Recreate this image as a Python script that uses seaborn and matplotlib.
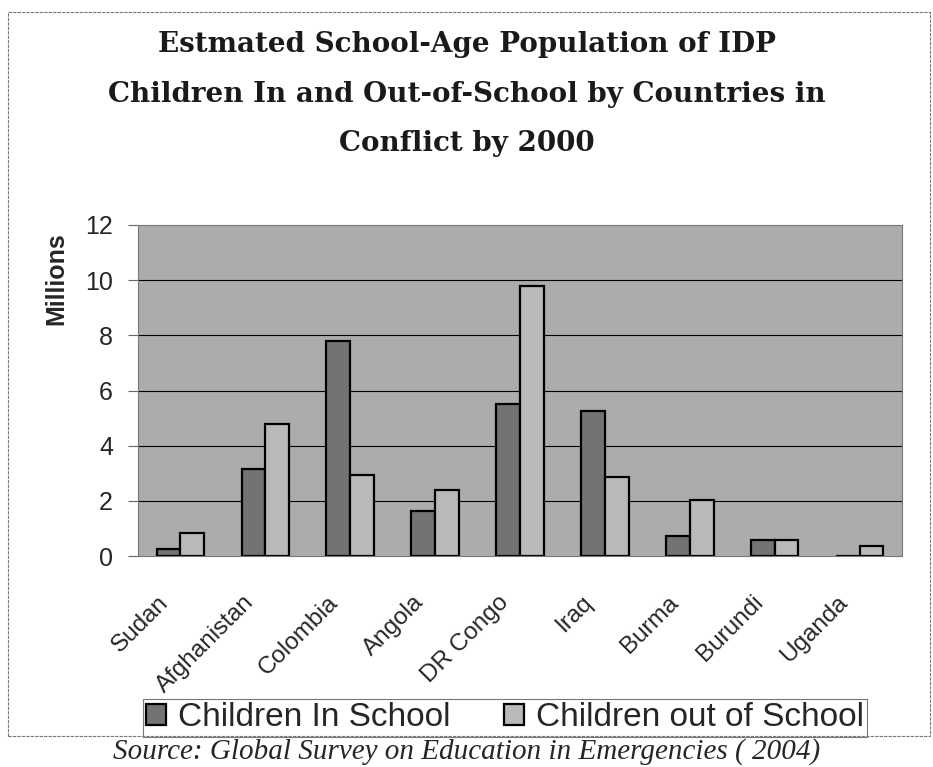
import pandas as pd
import matplotlib
matplotlib.use('Agg')
import matplotlib.pyplot as plt
import matplotlib.transforms as mtransforms
import seaborn as sns
from matplotlib.patches import Rectangle

# data (millions)
countries = ['Sudan', 'Afghanistan', 'Colombia', 'Angola', 'DR Congo',
             'Iraq', 'Burma', 'Burundi', 'Uganda']
in_school = [0.24, 3.15, 7.8, 1.62, 5.5, 5.27, 0.71, 0.57, 0.0]
out_school = [0.85, 4.8, 2.92, 2.38, 9.78, 2.86, 2.04, 0.57, 0.35]
series_names = ['Children In School', 'Children out of School']
y_ticks = [0, 2, 4, 6, 8, 10, 12]

df = pd.DataFrame({'country': countries * 2,
                   'value': in_school + out_school,
                   'series': [series_names[0]] * len(countries) + [series_names[1]] * len(countries)})

sns.set_theme(style='white')
plt.rcParams['font.family'] = ['Liberation Sans', 'DejaVu Sans']

fig = plt.figure(figsize=(9.33, 7.67), dpi=100)
ax = fig.add_axes([138 / 933, 1 - 556 / 767, (902 - 138) / 933, (556 - 225) / 767])

sns.barplot(data=df, x='country', y='value', hue='series', ax=ax,
            palette=['#737373', '#b9b9b9'], width=0.56, gap=0,
            edgecolor='black', linewidth=1.6, saturation=1, legend=True)

ax.set_facecolor('#acacac')
ax.set_ylim(0, 12)
ax.set_xlim(-0.5, len(countries) - 0.5)
ax.set_yticks(y_ticks)
ax.set_yticklabels([str(t) for t in y_ticks], fontsize=18)
for t in y_ticks[1:-1]:
    ax.axhline(t, color='black', lw=0.8, zorder=0.5)

# ticks between categories, labels at centres
ax.set_xticks(range(len(countries)))
ax.set_xticklabels(countries, rotation=45, ha='right', va='center',
                   rotation_mode='anchor', fontsize=17.5)
ax.set_xticks([i - 0.5 for i in range(len(countries) + 1)], minor=True)
ax.tick_params(axis='x', which='major', length=0, pad=31)
ax.tick_params(axis='x', which='minor', length=7, width=0.8, color='#444444', direction='out')
ax.tick_params(axis='y', length=7, width=0.8, color='#666666', direction='out', pad=11, left=True)

# nudge rotated labels left (after tick_params, which resets transforms)
shift = mtransforms.ScaledTranslation(-15 / 100, 0, fig.dpi_scale_trans)
for lab in ax.get_xticklabels():
    lab.set_transform(lab.get_transform() + shift)

for s in ax.spines.values():
    s.set_color('#777777')
    s.set_linewidth(0.8)

ax.set_xlabel('')
ax.set_ylabel('Millions', fontsize=18, fontweight='bold')
ax.yaxis.set_label_coords((68 - 138) / 764, (556 - 279) / 331)

leg = ax.legend(loc='center', bbox_to_anchor=(505 / 933, 1 - 718 / 767),
                bbox_transform=fig.transFigure, ncol=2, fontsize=24,
                frameon=True, fancybox=False, handlelength=0.6, handleheight=0.6,
                handletextpad=0.35, columnspacing=1.6, borderpad=0.1, borderaxespad=0)
leg.get_frame().set_edgecolor('#555555')
leg.get_frame().set_linewidth(0.8)

# dashed outer chart border
fig.patches.append(Rectangle((8 / 933, 1 - 736 / 767), (930 - 8) / 933, (736 - 12) / 767,
                             transform=fig.transFigure, fill=False, edgecolor='#777777',
                             linewidth=0.8, linestyle=(0, (3, 1)), zorder=0))

fig.text(0.5, 1 - 94 / 767,
         'Estmated School-Age Population of IDP\nChildren In and Out-of-School by Countries in\nConflict by 2000',
         ha='center', va='center', fontsize=20, fontweight='bold', family=['DejaVu Serif'],
         linespacing=2.05, color='#1a1a1a')

fig.text(467 / 933, 1 - 752 / 767, 'Source: Global Survey on Education in Emergencies ( 2004)',
         ha='center', va='center', fontsize=21, style='italic', family=['Liberation Serif'])

fig.savefig('out.png', dpi=100)
